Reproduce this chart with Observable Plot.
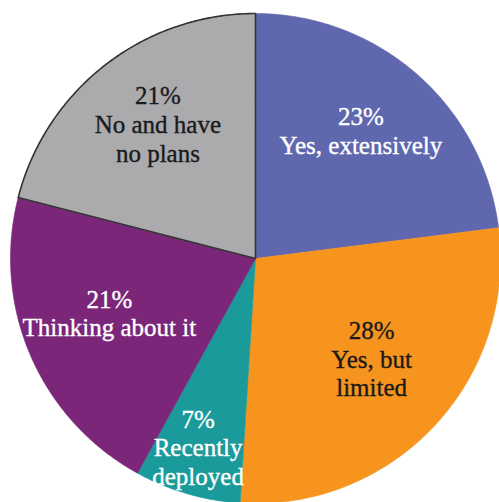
<!DOCTYPE html>
<html><head><meta charset="utf-8">
<script src="https://cdn.jsdelivr.net/npm/d3@7"></script>
<script src="https://cdn.jsdelivr.net/npm/@observablehq/plot@0.6"></script>
<style>html,body{margin:0;padding:0;background:#fff;overflow:hidden}</style>
</head><body><div id="chart"></div>
<script>
const categories = ["Yes, extensively", "Yes, but limited", "Recently deployed", "Thinking about it", "No and have no plans"];
const values = [23, 28, 7, 21, 21];
const labels = ["23%\nYes, extensively", "28%\nYes, but\nlimited", "7%\nRecently\ndeployed", "21%\nThinking about it", "21%\nNo and have\nno plans"];
const colors = ["#5F67AF", "#F7941E", "#1A9A9A", "#7B2679", "#ABABAE"];
const textColors = ["#ffffff", "#1a1a1a", "#ffffff", "#ffffff", "#1a1a1a"];

const W = 499, H = 502, cx = 255, cy = 258, R = 245;
const total = d3.sum(values);
let acc = 0;
const slices = values.map((v, i) => {
  const a0 = acc / total * 2 * Math.PI; acc += v;
  const a1 = acc / total * 2 * Math.PI;
  return {cat: categories[i], value: v, a0, a1, label: labels[i], tc: textColors[i]};
});
const pts = [];
for (const s of slices) {
  pts.push({cat: s.cat, x: 0, y: 0});
  const n = Math.max(2, Math.ceil((s.a1 - s.a0) / 0.01));
  for (let k = 0; k <= n; k++) {
    const a = s.a0 + (s.a1 - s.a0) * k / n;
    pts.push({cat: s.cat, x: Math.sin(a), y: Math.cos(a)});
  }
  pts.push({cat: s.cat, x: 0, y: 0});
}
const labelPts = slices.map(s => {
  const m = (s.a0 + s.a1) / 2;
  const rf = s.value < 10 ? 0.84 : 0.65;
  return {...s, x: rf * Math.sin(m), y: rf * Math.cos(m)};
});
const last = categories[categories.length - 1];

const chart = Plot.plot({
  width: W, height: H,
  margin: 0,
  x: {domain: [-cx / R, (W - cx) / R], axis: null},
  y: {domain: [-(H - cy) / R, cy / R], axis: null},
  color: {domain: categories, range: colors},
  style: {background: "#fff"},
  marks: [
    Plot.line(pts, {x: "x", y: "y", z: "cat", fill: "cat", stroke: "cat", strokeWidth: 0.6, curve: "linear"}),
    Plot.line(pts.filter(d => d.cat === last), {x: "x", y: "y", stroke: "#333", strokeWidth: 1.6, fill: "none", curve: "linear"}),
    Plot.text(labelPts, {x: "x", y: "y", text: "label", fill: d => d.tc, stroke: d => d.tc, strokeWidth: 0.35, fontSize: 25, fontFamily: "Liberation Serif", lineAnchor: "middle", lineHeight: 1.15, textAnchor: "middle", dy: -9})
  ]
});
document.getElementById("chart").appendChild(chart);
</script>
</body></html>
